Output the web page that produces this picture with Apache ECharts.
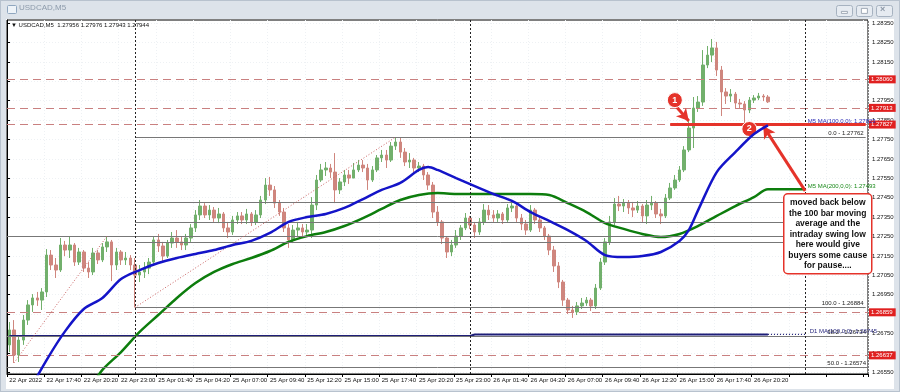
<!DOCTYPE html>
<html>
<head>
<meta charset="utf-8">
<script src="https://cdn.jsdelivr.net/npm/echarts@6.0.0/dist/echarts.min.js"></script>
<style>
html,body{margin:0;padding:0;background:#d9e0e8;}
#frame{position:absolute;left:0;top:0;width:898px;height:390px;border:1px solid #b8c2ce;background:#dde3ea;}
#white{position:absolute;left:6px;top:19px;width:888px;height:370px;background:#fff;}
#chart{position:absolute;left:0;top:0;width:900px;height:392px;}
</style>
</head>
<body>
<div id="frame"></div>
<div id="white"></div>
<div id="chart"></div>
<script>
// ---- data (20-minute candles) ----
const xTickLabels = ['22 Apr 2022','22 Apr 17:40','22 Apr 20:20','22 Apr 23:00','25 Apr 01:40','25 Apr 04:20','25 Apr 07:00','25 Apr 09:40','25 Apr 12:20','25 Apr 15:00','25 Apr 17:40','25 Apr 20:20','25 Apr 23:00','26 Apr 01:40','26 Apr 04:20','26 Apr 07:00','26 Apr 09:40','26 Apr 12:20','26 Apr 15:00','26 Apr 17:40','26 Apr 20:20'];
const yTicks = [1.2655,1.2665,1.2675,1.2685,1.2695,1.2705,1.2715,1.2725,1.2735,1.2745,1.2755,1.2765,1.2775,1.2785,1.2795,1.2805,1.2815,1.2825,1.2835];
const sessions = [['22 Apr',15,24],['25 Apr',0,24],['26 Apr',0,24],['27 Apr',0,5]];
const slotCount = 185;

// [open, close, low, high]
const candles = [
[1.26691,1.26768,1.26654,1.26809],[1.26768,1.26639,1.26598,1.26819],[1.26639,1.26716,1.26603,1.26742],[1.26716,1.26819,1.26691,1.26845],
[1.26819,1.26897,1.26794,1.26922],[1.26897,1.26933,1.26861,1.26953],[1.26933,1.26922,1.26892,1.26964],[1.26922,1.26964,1.26871,1.26984],
[1.26964,1.27154,1.26938,1.27185],[1.27154,1.27103,1.27077,1.27180],[1.27103,1.27077,1.27036,1.27139],[1.27077,1.27206,1.27067,1.27242],
[1.27206,1.27180,1.27149,1.27227],[1.27180,1.27206,1.27139,1.27252],[1.27206,1.27118,1.27098,1.27216],[1.27118,1.27170,1.27103,1.27191],
[1.27170,1.27087,1.27067,1.27180],[1.27087,1.27067,1.27036,1.27118],[1.27067,1.27165,1.27051,1.27191],[1.27165,1.27129,1.27108,1.27180],
[1.27129,1.27196,1.27118,1.27216],[1.27196,1.27222,1.27170,1.27252],[1.27222,1.27103,1.27020,1.27232],[1.27103,1.27170,1.27077,1.27191],
[1.27170,1.27129,1.27103,1.27180],[1.27129,1.27139,1.27103,1.27170],[1.27139,1.27103,1.27077,1.27154],[1.27103,1.27051,1.26884,1.27139],
[1.27051,1.27067,1.27015,1.27103],[1.27067,1.27087,1.27036,1.27118],[1.27087,1.27118,1.27056,1.27139],[1.27118,1.27232,1.27098,1.27252],
[1.27232,1.27201,1.27170,1.27263],[1.27201,1.27149,1.27118,1.27222],[1.27149,1.27216,1.27139,1.27232],[1.27216,1.27242,1.27191,1.27273],
[1.27242,1.27222,1.27191,1.27283],[1.27222,1.27206,1.27180,1.27252],[1.27206,1.27242,1.27180,1.27263],[1.27242,1.27294,1.27222,1.27314],
[1.27294,1.27361,1.27273,1.27386],[1.27361,1.27407,1.27335,1.27438],[1.27407,1.27361,1.27345,1.27422],[1.27361,1.27386,1.27335,1.27412],
[1.27386,1.27345,1.27325,1.27402],[1.27345,1.27366,1.27319,1.27397],[1.27366,1.27294,1.27273,1.27376],[1.27294,1.27273,1.27242,1.27325],
[1.27273,1.27335,1.27258,1.27356],[1.27335,1.27356,1.27314,1.27376],[1.27356,1.27335,1.27314,1.27376],[1.27335,1.27366,1.27314,1.27392],
[1.27366,1.27325,1.27304,1.27376],[1.27325,1.27361,1.27309,1.27386],[1.27361,1.27438,1.27345,1.27459],[1.27438,1.27515,1.27417,1.27551],
[1.27515,1.27490,1.27459,1.27557],[1.27490,1.27422,1.27397,1.27510],[1.27422,1.27376,1.27356,1.27438],[1.27376,1.27294,1.27273,1.27397],
[1.27294,1.27232,1.27191,1.27314],[1.27232,1.27283,1.27216,1.27309],[1.27283,1.27294,1.27252,1.27325],[1.27294,1.27273,1.27242,1.27314],
[1.27273,1.27283,1.27247,1.27314],[1.27283,1.27412,1.27242,1.27453],[1.27412,1.27541,1.27386,1.27567],[1.27541,1.27593,1.27531,1.27624],
[1.27593,1.27603,1.27562,1.27634],[1.27603,1.27582,1.27551,1.27624],[1.27582,1.27490,1.27422,1.27680],[1.27490,1.27531,1.27469,1.27551],
[1.27531,1.27567,1.27510,1.27593],[1.27567,1.27551,1.27521,1.27593],[1.27551,1.27593,1.27551,1.27629],[1.27593,1.27618,1.27582,1.27644],
[1.27618,1.27603,1.27582,1.27644],[1.27603,1.27541,1.27490,1.27624],[1.27541,1.27593,1.27531,1.27613],[1.27593,1.27655,1.27582,1.27670],
[1.27655,1.27670,1.27634,1.27696],[1.27670,1.27644,1.27603,1.27696],[1.27644,1.27716,1.27634,1.27737],[1.27716,1.27737,1.27696,1.27762],
[1.27737,1.27685,1.27655,1.27758],[1.27685,1.27634,1.27613,1.27706],[1.27634,1.27644,1.27603,1.27680],[1.27644,1.27603,1.27577,1.27655],
[1.27603,1.27613,1.27582,1.27634],[1.27613,1.27567,1.27541,1.27624],[1.27567,1.27515,1.27490,1.27582],[1.27515,1.27376,1.27345,1.27531],
[1.27376,1.27325,1.27304,1.27407],[1.27325,1.27242,1.27211,1.27335],[1.27242,1.27170,1.27139,1.27252],[1.27170,1.27206,1.27149,1.27232],
[1.27206,1.27252,1.27191,1.27283],[1.27252,1.27294,1.27232,1.27309],[1.27294,1.27345,1.27283,1.27371],[1.27345,1.27309,1.27289,1.27356],
[1.27309,1.27273,1.27242,1.27325],[1.27273,1.27325,1.27258,1.27345],[1.27325,1.27386,1.27309,1.27417],[1.27386,1.27361,1.27335,1.27412],
[1.27361,1.27345,1.27325,1.27386],[1.27345,1.27366,1.27325,1.27386],[1.27366,1.27335,1.27314,1.27376],[1.27335,1.27397,1.27325,1.27417],
[1.27397,1.27407,1.27376,1.27438],[1.27407,1.27345,1.27325,1.27417],[1.27345,1.27314,1.27283,1.27366],[1.27314,1.27283,1.27258,1.27335],
[1.27283,1.27386,1.27273,1.27412],[1.27386,1.27335,1.27314,1.27397],[1.27335,1.27294,1.27273,1.27356],[1.27294,1.27252,1.27232,1.27304],
[1.27252,1.27180,1.27154,1.27263],[1.27180,1.27098,1.27067,1.27201],[1.27098,1.27015,1.26984,1.27118],[1.27015,1.26922,1.26892,1.27026],
[1.26922,1.26871,1.26850,1.26933],[1.26871,1.26861,1.26830,1.26892],[1.26861,1.26892,1.26845,1.26912],[1.26892,1.26907,1.26876,1.26933],
[1.26907,1.26922,1.26892,1.26938],[1.26922,1.26892,1.26866,1.26933],[1.26892,1.26984,1.26876,1.27005],[1.26984,1.27118,1.26974,1.27139],
[1.27118,1.27222,1.27103,1.27242],[1.27222,1.27325,1.27206,1.27356],[1.27325,1.27417,1.27309,1.27448],[1.27417,1.27407,1.27381,1.27459],
[1.27407,1.27422,1.27376,1.27443],[1.27422,1.27397,1.27366,1.27438],[1.27397,1.27386,1.27350,1.27428],[1.27386,1.27407,1.27371,1.27433],
[1.27407,1.27356,1.27325,1.27417],[1.27356,1.27412,1.27314,1.27438],[1.27412,1.27422,1.27386,1.27459],[1.27422,1.27366,1.27345,1.27433],
[1.27366,1.27356,1.27314,1.27392],[1.27356,1.27448,1.27345,1.27469],[1.27448,1.27500,1.27438,1.27526],[1.27500,1.27541,1.27490,1.27567],
[1.27541,1.27593,1.27531,1.27613],[1.27593,1.27696,1.27582,1.27716],[1.27696,1.27809,1.27685,1.27850],[1.27809,1.27912,1.27706,1.27969],
[1.27912,1.27943,1.27892,1.27974],[1.27943,1.28134,1.27923,1.28211],[1.28134,1.28185,1.28118,1.28232],[1.28185,1.28222,1.28149,1.28268],
[1.28222,1.28108,1.28077,1.28253],[1.28108,1.27995,1.27871,1.28129],[1.27995,1.27974,1.27933,1.28015],[1.27974,1.27984,1.27943,1.28010],
[1.27984,1.27938,1.27912,1.27995],[1.27938,1.27933,1.27912,1.27959],[1.27933,1.27902,1.27827,1.27948],[1.27902,1.27953,1.27886,1.27969],
[1.27953,1.27964,1.27938,1.27979],[1.27964,1.27974,1.27953,1.27990],[1.27974,1.27969,1.27948,1.27984],[1.27969,1.27944,1.27938,1.27979]
];
const lastBar = [1.27956, 1.27976, 1.27943, 1.27944];

// moving averages: [slot index, price]
const ma100 = [[4,1.26443],[8,1.26613],[12,1.26762],[16,1.26876],[20,1.26933],[24,1.27031],[28,1.27077],[32,1.27113],[36,1.27139],[40,1.27160],[44,1.27180],[48,1.27206],[52,1.27227],[56,1.27268],[60,1.27325],[64,1.27350],[68,1.27366],[72,1.27397],[76,1.27443],[80,1.27490],[84,1.27526],[88,1.27593],[90,1.27608],[92,1.27593],[96,1.27551],[100,1.27510],[104,1.27469],[108,1.27433],[112,1.27376],[116,1.27330],[120,1.27283],[124,1.27227],[128,1.27154],[132,1.27144],[136,1.27149],[140,1.27170],[144,1.27227],[146,1.27283],[148,1.27386],[152,1.27582],[156,1.27685],[160,1.27778],[163,1.27823]];
const ma200 = [[18,1.26490],[20,1.26562],[24,1.26654],[28,1.26758],[32,1.26845],[36,1.26933],[40,1.27010],[44,1.27067],[48,1.27108],[52,1.27139],[56,1.27175],[60,1.27222],[64,1.27252],[68,1.27273],[72,1.27304],[76,1.27345],[80,1.27392],[84,1.27438],[88,1.27464],[92,1.27474],[96,1.27469],[100,1.27469],[104,1.27469],[108,1.27469],[112,1.27469],[116,1.27464],[120,1.27422],[124,1.27376],[128,1.27319],[132,1.27289],[136,1.27263],[140,1.27247],[144,1.27263],[148,1.27304],[152,1.27356],[156,1.27407],[160,1.27453],[163,1.27493],[171,1.27493]];
const d1ma = [[0,1.26737],[99,1.26737],[100,1.26745],[163,1.26745]];
const d1maExt = [[163,1.26745],[171,1.26745]];
const maLabels = [['M5 MA(100,0,0): 1.27823',1.27823,'#2a2ab4'],['M5 MA(200,0,0): 1.27493',1.27493,'#1a8a1a'],['D1 MA(100,0,0): 1.26745',1.26745,'#1e1e78']];

// horizontal levels
const redLevels = [1.28060, 1.27913, 1.27827, 1.26859, 1.26637];
const currentPrice = 1.27944;
const fibAStart = 27;
const fibA = [1.27762, 1.27427, 1.27323, 1.27219, 1.26884];
const fibALabels = ['0.0 - 1.27762','','','','100.0 - 1.26884'];
const fibB = [1.27252, 1.26734, 1.26574];
const fibBLabels = ['', '38.2 - 1.26734', '50.0 - 1.26574'];
const trendLines = [[[1,1.26598],[21,1.27252]], [[27,1.26884],[83,1.27762]]];
const daySeparators = [27, 99, 171];
const swingLine = [[142,1.27827],[184,1.27827]];
const markers = [['1',143,1.27953],['2',159,1.27804]];
const arrows = [[[143,1.27928],[146,1.27845]], [[171,1.27485],[162,1.27819]]];
const noteLines = ['moved back below','the 100 bar moving','average and the','intraday swing low','here would give','buyers some cause','for pause....'];

// ---- build categories (20-minute slots, weekend skipped) ----
const categories = [];
for (const s of sessions) {
  for (let m = s[1]*60; m < s[2]*60 && categories.length < slotCount; m += 20) {
    const hh = String(Math.floor(m/60)).padStart(2,'0'), mm = String(m%60).padStart(2,'0');
    categories.push(s[0] + ' ' + hh + ':' + mm);
  }
}

const FONT = '"Liberation Sans", Arial, sans-serif';
const RED = '#e5332a';

// full-width levels drawn on a hidden 0..1 x axis
const levelLines = [];
const fullLine = (v, lineStyle, label) => levelLines.push([
  {coord:[0, v], lineStyle: lineStyle, label: label},
  {coord:[1, v]}
]);
fibB.forEach((v,i) => fullLine(v, {color:'#777', type:'solid', width:1},
  {show: !!fibBLabels[i], position:'insideEndTop', distance:[2,1], formatter: fibBLabels[i], color:'#222', fontSize:6, fontFamily:FONT}));
redLevels.forEach(v => fullLine(v, {color:'#c98080', type:[8,5], width:1},
  {show:true, position:'end', distance:1, formatter: v.toFixed(5), color:'#fff', backgroundColor:'#e02020', fontSize:6, fontFamily:FONT, padding:[1,3,1,2]}));
fullLine(currentPrice, {opacity:0, width:0},
  {show:true, position:'end', distance:1, formatter: currentPrice.toFixed(5), color:'#fff', backgroundColor:'#000', fontSize:6, fontFamily:FONT, padding:[1,3,1,2]});

const mlData = [];
fibA.forEach((v,i) => mlData.push([
  {coord:[fibAStart, v], lineStyle:{color:'#777', type:'solid', width:1},
   label:{show: !!fibALabels[i], position:'insideEndTop', distance:[2,1], formatter: fibALabels[i], color:'#222', fontSize:6, fontFamily:FONT}},
  {coord:[slotCount-1, v]}
]));
trendLines.forEach(t => mlData.push([
  {coord:t[0], lineStyle:{color:'#c86060', type:[1,2], width:1}, label:{show:false}},
  {coord:t[1]}
]));
daySeparators.forEach(k => mlData.push({
  xAxis: categories[k], lineStyle:{color:'#222', type:[2,2], width:1}, label:{show:false}
}));

const annotLines = [
  [{coord:swingLine[0], symbol:'none', lineStyle:{color:RED, width:3, type:'solid'}, label:{show:false}},
   {coord:swingLine[1], symbol:'none'}]
];
arrows.forEach(a => annotLines.push([
  {coord:a[0], symbol:'none', lineStyle:{color:RED, width:3, type:'solid'}, label:{show:false}},
  {coord:a[1], symbol:'arrow', symbolSize:[10,12]}
]));

const chart = echarts.init(document.getElementById('chart'), null, {renderer:'canvas'});
chart.setOption({
  animation: false,
  backgroundColor: 'transparent',
  grid: {left:7, right:32, top:20, bottom:18, show:true, borderColor:'#000', borderWidth:1, backgroundColor:'transparent'},
  xAxis: [{
    type:'category', data: categories, boundaryGap:true,
    axisLine:{show:true, lineStyle:{color:'#000'}},
    axisTick:{show:true, interval:7, length:3, lineStyle:{color:'#000'}},
    axisLabel:{interval:7, fontSize:6, fontFamily:FONT, color:'#111', align:'left', margin:3,
      formatter:(v, i) => (i % 8 === 0 && xTickLabels[i/8]) ? xTickLabels[i/8] : ''},
    splitLine:{show:true, interval:7, lineStyle:{color:'#eef1f4', type:[1,2]}}
  }, {
    type:'value', min:0, max:1, show:false
  }],
  yAxis: {
    type:'value', position:'right', min:1.26541, max:1.28366,
    axisLine:{show:true, lineStyle:{color:'#000'}},
    axisTick:{show:true, length:3, customValues: yTicks, lineStyle:{color:'#000'}},
    axisLabel:{customValues: yTicks, fontSize:6, fontFamily:FONT, color:'#111', margin:4, formatter: v => v.toFixed(5)},
    splitLine:{show:true, lineStyle:{color:'#eef1f4', type:[1,2]}}
  },
  series: [
    {type:'line', name:'levels', data:[], xAxisIndex:1, z:1,
      markLine:{silent:true, symbol:['none','none'], animation:false, data: levelLines}},
    {
      type:'candlestick', name:'USDCAD,M5', data: candles, barWidth:3,
      itemStyle:{color:'#72b06c', color0:'#cf867e', borderColor:'#72b06c', borderColor0:'#cf867e', borderWidth:1},
      markLine:{silent:true, symbol:['none','none'], animation:false, data: mlData},
      z:2
    },
    {type:'line', name:'D1 MA', data:d1ma, showSymbol:false, lineStyle:{color:'#1e1e78', width:2}, z:3},
    {type:'line', name:'D1 MA ext', data:d1maExt, showSymbol:false, lineStyle:{color:'#1e1e78', width:1.2, type:[1,2]}, z:3,
      markPoint:{symbol:'circle', symbolSize:1, itemStyle:{color:'transparent'},
        data:[{coord:[171, maLabels[2][1]], label:{show:true, position:'right', offset:[-1,-3], formatter:maLabels[2][0], color:maLabels[2][2], fontSize:6, fontFamily:FONT}}]}},
    {type:'line', name:'MA200', data:ma200, showSymbol:false, smooth:0.3, lineStyle:{color:'#0d7d0d', width:2.5}, z:4,
      markPoint:{symbol:'circle', symbolSize:1, itemStyle:{color:'transparent'},
        data:[{coord:[171, maLabels[1][1]], label:{show:true, position:'right', offset:[-3,-3], formatter:maLabels[1][0], color:maLabels[1][2], fontSize:6, fontFamily:FONT}}]}},
    {type:'line', name:'MA100', data:ma100, showSymbol:false, smooth:0.3, lineStyle:{color:'#1414c8', width:2.5}, z:5,
      markPoint:{symbol:'circle', symbolSize:1, itemStyle:{color:'transparent'},
        data:[{coord:[171, maLabels[0][1]], label:{show:true, position:'right', offset:[-3,-4], formatter:maLabels[0][0], color:maLabels[0][2], fontSize:6, fontFamily:FONT}}]}},
    {type:'line', name:'annotations', data:[], z:8,
      markLine:{silent:true, symbol:['none','none'], animation:false, data: annotLines},
      markPoint:{silent:true, animation:false, data: markers.map(m => ({
        coord:[m[1], m[2]], symbol:'circle', symbolSize:15,
        itemStyle:{color:RED, borderColor:'#fff', borderWidth:1},
        label:{show:true, position:'inside', formatter:m[0], color:'#fff', fontWeight:'bold', fontSize:9, fontFamily:FONT}
      }))}
    }
  ],
  graphic: [
    {type:'rect', left:7, top:5, z:50, shape:{width:9, height:8, r:1}, style:{fill:'#eef3f8', stroke:'#8fa6bf', lineWidth:1}},
    {type:'text', left:19, top:4, z:50, style:{text:'USDCAD,M5', fill:'#8d9bab', font:'8px ' + FONT}},
    {type:'rect', left:836, top:5, z:50, shape:{width:16, height:11, r:2}, style:{fill:'#e6ebf1', stroke:'#a6b2c0', lineWidth:1}},
    {type:'rect', left:856, top:5, z:50, shape:{width:16, height:11, r:2}, style:{fill:'#e6ebf1', stroke:'#a6b2c0', lineWidth:1}},
    {type:'rect', left:876, top:5, z:50, shape:{width:16, height:11, r:2}, style:{fill:'#e6ebf1', stroke:'#a6b2c0', lineWidth:1}},
    {type:'rect', left:841, top:11, z:51, shape:{width:6, height:2}, style:{fill:'#fff', stroke:'#8b97a6', lineWidth:0.8}},
    {type:'rect', left:861, top:8, z:51, shape:{width:6, height:5}, style:{fill:'#fff', stroke:'#8b97a6', lineWidth:0.8}},
    {type:'text', left:880, top:5, z:51, style:{text:'\u00d7', fill:'#8b97a6', font:'bold 9px ' + FONT}},
    {type:'text', left:11, top:22, z:50, style:{text:'\u25bc USDCAD,M5  ' + lastBar.map(v => v.toFixed(5)).join(' '), fill:'#111', font:'6px ' + FONT}},
    {type:'group', left:783, top:193, z:100, children:[
      {type:'rect', z:100, shape:{x:0, y:0, width:88, height:80, r:4}, style:{fill:'#fff', stroke:RED, lineWidth:1.5}},
      {type:'text', z:101, style:{x:44, y:4, text:noteLines.join('\n'), fill:'#111', font:'bold 8.5px ' + FONT, align:'center', textAlign:'center', lineHeight:10.5}}
    ]}
  ]
});
</script>
</body>
</html>
